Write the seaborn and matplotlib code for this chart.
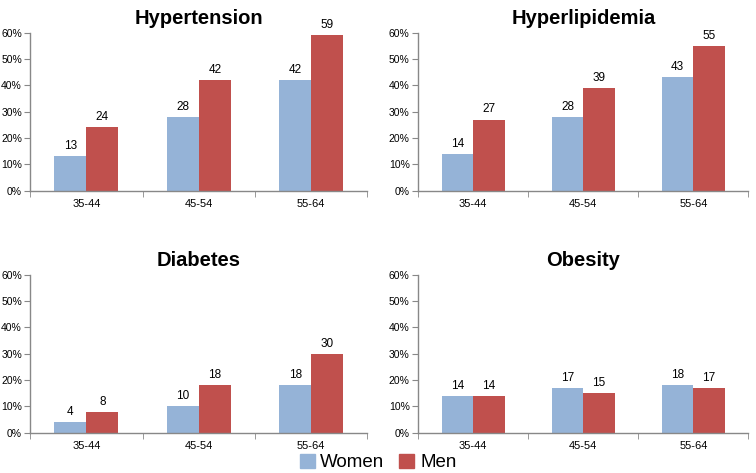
import numpy as np
import pandas as pd
import seaborn as sns
import matplotlib.pyplot as plt
from matplotlib.patches import Patch
from matplotlib.ticker import PercentFormatter

sns.set_style('white')
plt.rcParams['font.family'] = ['Liberation Sans', 'DejaVu Sans']
plt.rcParams['text.color'] = 'black'
plt.rcParams['xtick.color'] = 'black'
plt.rcParams['ytick.color'] = 'black'

ages = ['35-44', '45-54', '55-64']
titles = ['Hypertension', 'Hyperlipidemia', 'Diabetes', 'Obesity']
women = [[13, 28, 42], [14, 28, 43], [4, 10, 18], [14, 17, 18]]
men = [[24, 42, 59], [27, 39, 55], [8, 18, 30], [14, 15, 17]]
colors = {'Women': '#95b3d7', 'Men': '#c0504d'}

fig = plt.figure(figsize=(7.56, 4.73), dpi=100)
# axes boxes in figure fractions
boxes = [[0.040, 0.597, 0.446, 0.334],
         [0.553, 0.597, 0.437, 0.334],
         [0.040, 0.085, 0.446, 0.334],
         [0.553, 0.085, 0.437, 0.334]]

for i, t in enumerate(titles):
    ax = fig.add_axes(boxes[i])
    df = pd.DataFrame({'age': ages * 2,
                       'value': women[i] + men[i],
                       'sex': ['Women'] * 3 + ['Men'] * 3})
    sns.barplot(data=df, x='age', y='value', hue='sex', palette=colors,
                width=0.57, gap=0, legend=False, ax=ax, saturation=1, linewidth=0)
    for c in ax.containers:
        ax.bar_label(c, fmt='%d', padding=3, fontsize=8.5)
    ax.set_ylim(0, 60)
    ax.set_xlim(-0.5, 2.5)
    ax.set_yticks(np.arange(0, 61, 10))
    ax.yaxis.set_major_formatter(PercentFormatter(decimals=0))
    ax.set_xticks(np.arange(-0.5, 3, 1), minor=True)
    ax.tick_params(axis='x', which='major', length=0, labelsize=8, pad=6)
    ax.tick_params(axis='x', which='minor', length=4, color='#888888', direction='out', bottom=True)
    ax.tick_params(axis='y', length=4, color='#888888', labelcolor='black', direction='out',
                   left=True, labelsize=7.5, pad=2)
    ax.set_xlabel('')
    ax.set_ylabel('')
    sns.despine(ax=ax)
    for s in ['left', 'bottom']:
        ax.spines[s].set_color('#888888')
        ax.spines[s].set_linewidth(1)
    ax.set_title(t, fontsize=14.5, fontweight='bold', pad=6)

handles = [Patch(color=colors['Women'], label='Women'), Patch(color=colors['Men'], label='Men')]
fig.legend(handles=handles, loc='center', bbox_to_anchor=(0.5, 0.022), ncol=2,
           frameon=False, fontsize=13.5, handlelength=0.8, handleheight=0.8,
           handletextpad=0.3, columnspacing=0.8)

fig.savefig('out.png', dpi=100)
